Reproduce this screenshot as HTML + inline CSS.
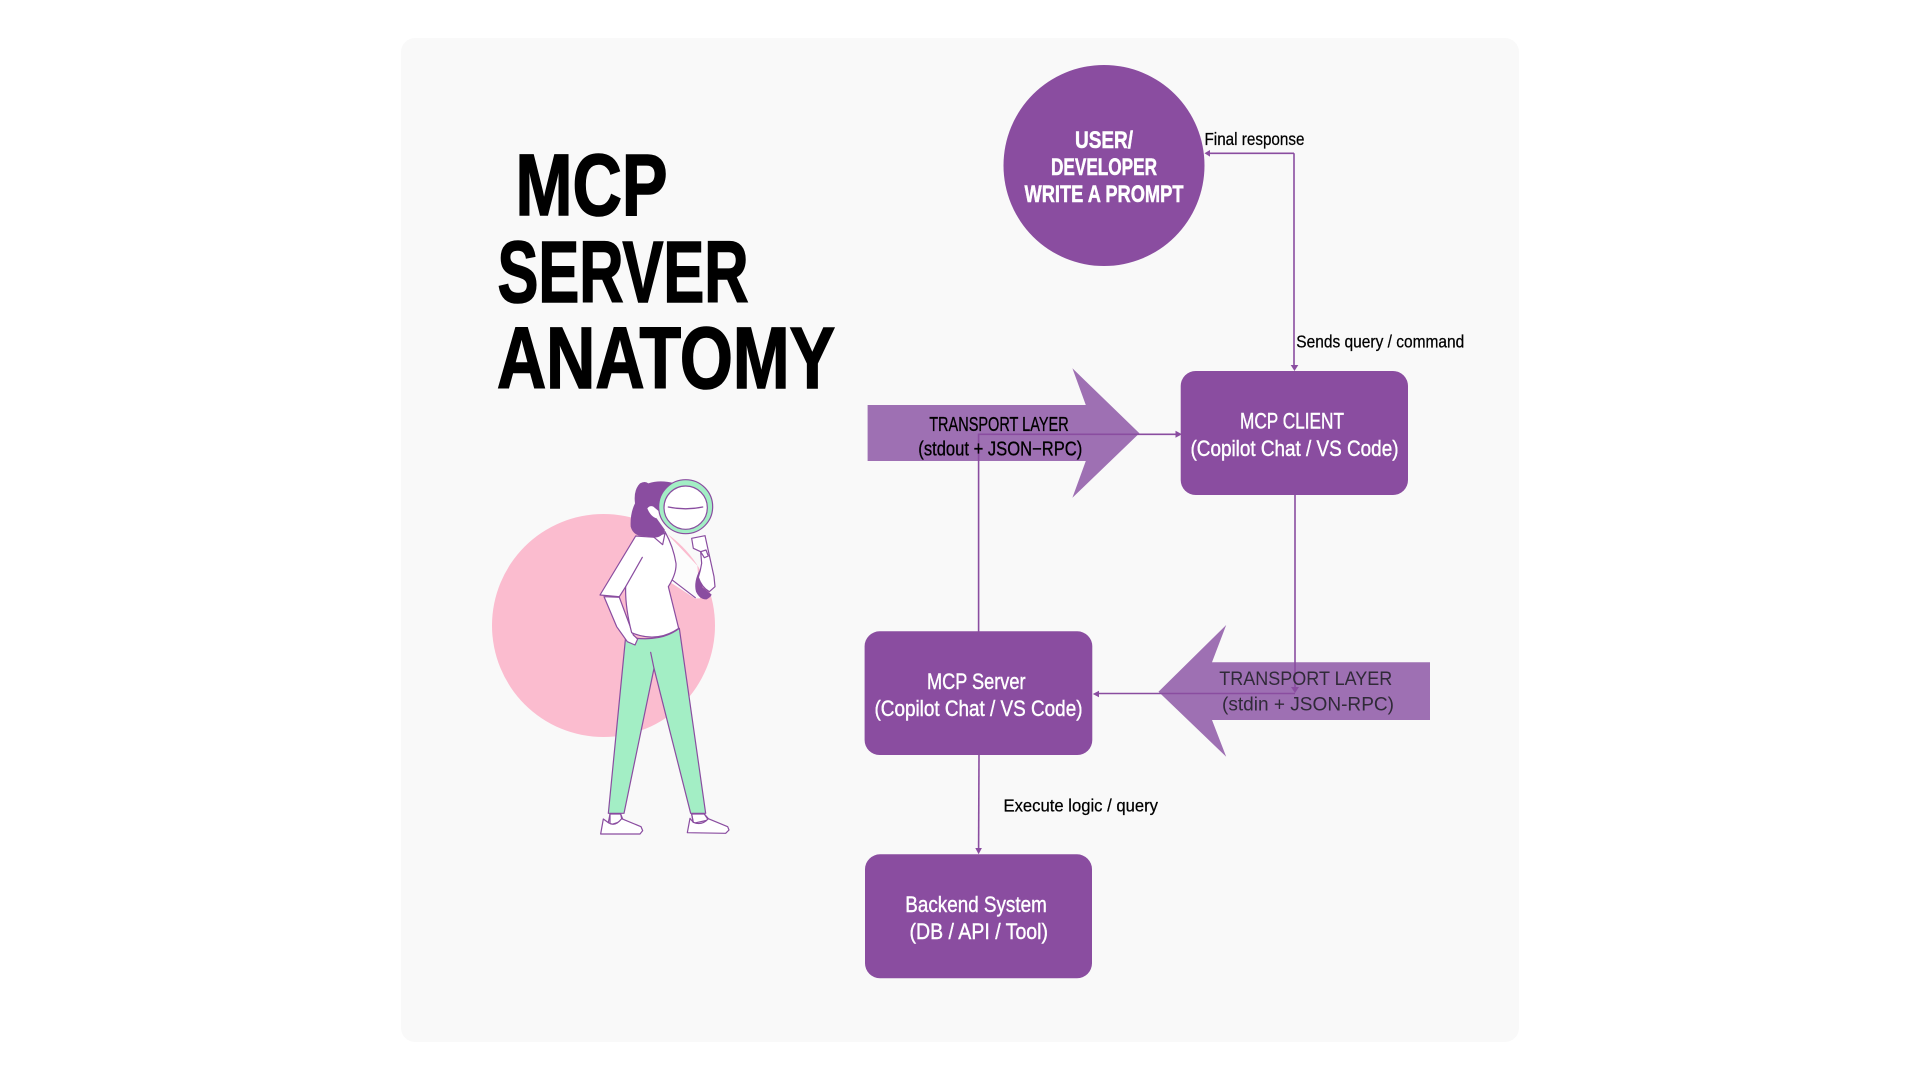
<!DOCTYPE html>
<html lang="en">
<head>
<meta charset="utf-8">
<title>MCP Server Anatomy</title>
<style>
html,body{margin:0;padding:0;background:#fff;width:1920px;height:1080px;overflow:hidden}
svg{display:block}
text{font-family:"Liberation Sans",sans-serif}
.t{font-weight:700;font-size:87px;fill:#000;stroke:#000;stroke-width:1.6}
.w{font-size:22px;fill:#fff;stroke:#fff;stroke-width:.4}
.u{font-size:24px;font-weight:700;fill:#fff;stroke:#fff;stroke-width:.5}
.l{font-size:17.5px;fill:#000;stroke:#000;stroke-width:.25}
.b{font-size:20px;fill:#000;stroke:#000;stroke-width:.3}
.d{font-size:19.5px;fill:#302a38}
.c{fill:none;stroke:#8a4da0;stroke-width:1.6}
.a{fill:#8a4da0}
.f{stroke:#8a4da0;stroke-width:3.6;stroke-linejoin:round;stroke-linecap:round}
</style>
</head>
<body>
<svg width="1920" height="1080" viewBox="0 0 1920 1080" xmlns="http://www.w3.org/2000/svg">
<rect width="1920" height="1080" fill="#fff"/>
<rect x="401" y="38" width="1118" height="1004" rx="14" fill="#f9f9f9"/>

<text class="t" x="515.5" y="215" textLength="152" lengthAdjust="spacingAndGlyphs">MCP</text>
<text class="t" x="497.5" y="302" textLength="251" lengthAdjust="spacingAndGlyphs">SERVER</text>
<text class="t" x="497" y="388" textLength="338" lengthAdjust="spacingAndGlyphs">ANATOMY</text>

<circle cx="603.5" cy="625.5" r="111.5" fill="#fbbccf"/>

<g transform="translate(460,450) scale(.33333)">
  <!-- pants -->
  <path class="f" fill="#a3eec5" d="M497 560 L445 1090 L492 1090 L582 655 L692 1090 L737 1090 L658 535 Q600 580 497 560 Z"/>
  <path class="f" fill="none" d="M582 655 L572 607"/>
  <!-- shoes -->
  <path class="f" fill="#fff" d="M450 1092 L482 1092 L490 1112 L450 1125 Z" stroke="none"/>
  <path class="f" fill="#fff" d="M422 1152 L430 1107 L445 1118 Q465 1132 485 1106 L543 1130 L548 1142 L540 1152 Z"/>
  <path class="f" fill="none" d="M450 1092 L445 1118 M482 1092 L485 1106"/>
  <path class="f" fill="#fff" d="M695 1092 L733 1092 L745 1110 L700 1120 Z" stroke="none"/>
  <path class="f" fill="#fff" d="M682 1148 L690 1105 L700 1117 Q725 1128 745 1106 L803 1130 L807 1140 L797 1150 Z"/>
  <path class="f" fill="none" d="M695 1092 L700 1117 M733 1092 L745 1106"/>
  <!-- left forearm -->
  <path class="f" fill="#fff" d="M432 440 L478 442 L520 555 L533 567 L525 585 L502 575 L470 530 Z"/>
  <!-- right sleeve (no top stroke) -->
  <path fill="#fcfcfc" d="M615 245 L712 347 L720 445 L705 445 L628 395 Z"/>
  <path class="f" fill="none" d="M630 385 L706 443"/>
  <!-- cuff -->
  <path fill="#8a4da0" d="M720 358 Q700 395 708 425 Q720 450 740 448 Q752 442 755 434 L728 412 L715 380 Z"/>
  <!-- torso -->
  <path class="f" fill="#fff" d="M527 258 L420 435 L478 440 L497 410 Q495 470 515 548 Q590 580 656 535 Q640 470 625 410 Q650 370 648 340 Q640 290 615 245 L585 262 Z"/>
  <path class="f" fill="none" d="M547 322 L497 410"/>
  <path class="f" fill="#fff" d="M580 260 L608 284 L615 250 Z"/>
  <!-- hand -->
  <path class="f" fill="#fff" d="M695 265 L735 257 L762 380 L765 410 L748 425 Q725 412 715 382 Q722 360 725 340 L722 305 L700 295 Z"/>
  <path class="f" fill="#fff" d="M722 305 L738 300 L745 318 L733 323 Z"/>
  <!-- hair -->
  <path fill="#8a4da0" d="M540 100 Q555 92 565 100 Q600 88 645 100 L600 170 L590 205 L615 240 Q605 265 580 262 L555 258 Q520 260 512 230 Q510 190 525 160 Q520 120 540 100 Z"/>
  <path fill="#fff" d="M562 175 Q570 165 580 170 L598 185 L590 205 Q572 200 562 175 Z"/>
  <!-- magnifier -->
  <circle cx="677" cy="170" r="81" fill="#a3eec5" stroke="#8a4da0" stroke-width="3.6"/>
  <circle cx="677" cy="173" r="65" fill="#fff" stroke="#8a4da0" stroke-width="3.6"/>
  <path d="M625 171 Q677 182 728 171" fill="none" stroke="#8a4da0" stroke-width="4" stroke-linecap="round"/>
</g>

<!-- transport arrows -->
<polygon points="867.6,405 1085.8,405 1072.4,368.3 1139.4,433.3 1072.4,497.7 1085.8,461 867.6,461" fill="#9e70b3"/>
<polygon points="1430,662.3 1212,662.3 1226.2,625 1158.5,691.7 1226.2,756.7 1212,720 1430,720" fill="#9e70b3"/>

<!-- nodes -->
<circle cx="1104" cy="165.5" r="100.5" fill="#8a4da0"/>
<rect x="1180.7" y="371" width="227.3" height="124" rx="15" fill="#8a4da0"/>
<rect x="864.6" y="631.3" width="227.7" height="123.7" rx="15" fill="#8a4da0"/>
<rect x="865" y="854.3" width="227" height="124" rx="15" fill="#8a4da0"/>

<!-- connectors -->
<path class="c" d="M1294 153.3 H1208"/>
<path class="c" d="M1294 153.3 V366"/>
<polygon class="a" points="1204.5,153.3 1210,150 1210,156.6"/>
<polygon class="a" points="1294.5,371 1290.7,365 1298.3,365"/>
<path class="c" d="M978.6 632 V434.3 H1176"/>
<polygon class="a" points="1182,434.3 1175.5,430.8 1175.5,437.8"/>
<path class="c" d="M1295 495 V687"/>
<polygon class="a" points="1295,693 1291,687 1299,687"/>
<path class="c" d="M1295 693.5 H1098"/>
<polygon class="a" points="1092.8,694 1099,690.7 1099,697.3"/>
<path class="c" d="M979 755 L978.6 849"/>
<polygon class="a" points="978.6,854.3 975.3,848 981.9,848"/>

<!-- labels -->
<text class="u" x="1075" y="148" textLength="58" lengthAdjust="spacingAndGlyphs">USER/</text>
<text class="u" x="1051" y="175" textLength="106" lengthAdjust="spacingAndGlyphs">DEVELOPER</text>
<text class="u" x="1024.5" y="202" textLength="159" lengthAdjust="spacingAndGlyphs">WRITE A PROMPT</text>

<text class="l" x="1204.5" y="145" textLength="100" lengthAdjust="spacingAndGlyphs">Final response</text>
<text class="l" x="1296.3" y="347.7" textLength="168" lengthAdjust="spacingAndGlyphs">Sends query / command</text>
<text class="l" x="1003.5" y="811.7" textLength="154.5" lengthAdjust="spacingAndGlyphs">Execute logic / query</text>

<text class="b" x="929.2" y="431" textLength="139.5" lengthAdjust="spacingAndGlyphs">TRANSPORT LAYER</text>
<text class="b" x="918.3" y="455.6" textLength="164" lengthAdjust="spacingAndGlyphs">(stdout + JSON−RPC)</text>

<text class="d" x="1219.3" y="685" textLength="173" lengthAdjust="spacingAndGlyphs">TRANSPORT LAYER</text>
<text class="d" x="1222" y="710.7" textLength="172" lengthAdjust="spacingAndGlyphs">(stdin + JSON-RPC)</text>

<text class="w" x="1240" y="428.7" textLength="104" lengthAdjust="spacingAndGlyphs">MCP CLIENT</text>
<text class="w" x="1190.5" y="456" textLength="208" lengthAdjust="spacingAndGlyphs">(Copilot Chat / VS Code)</text>

<text class="w" x="927" y="689" textLength="98.5" lengthAdjust="spacingAndGlyphs">MCP Server</text>
<text class="w" x="874.5" y="716" textLength="208" lengthAdjust="spacingAndGlyphs">(Copilot Chat / VS Code)</text>

<text class="w" x="905.3" y="912" textLength="141.5" lengthAdjust="spacingAndGlyphs">Backend System</text>
<text class="w" x="909.5" y="939" textLength="138.5" lengthAdjust="spacingAndGlyphs">(DB / API / Tool)</text>
</svg>
</body>
</html>
